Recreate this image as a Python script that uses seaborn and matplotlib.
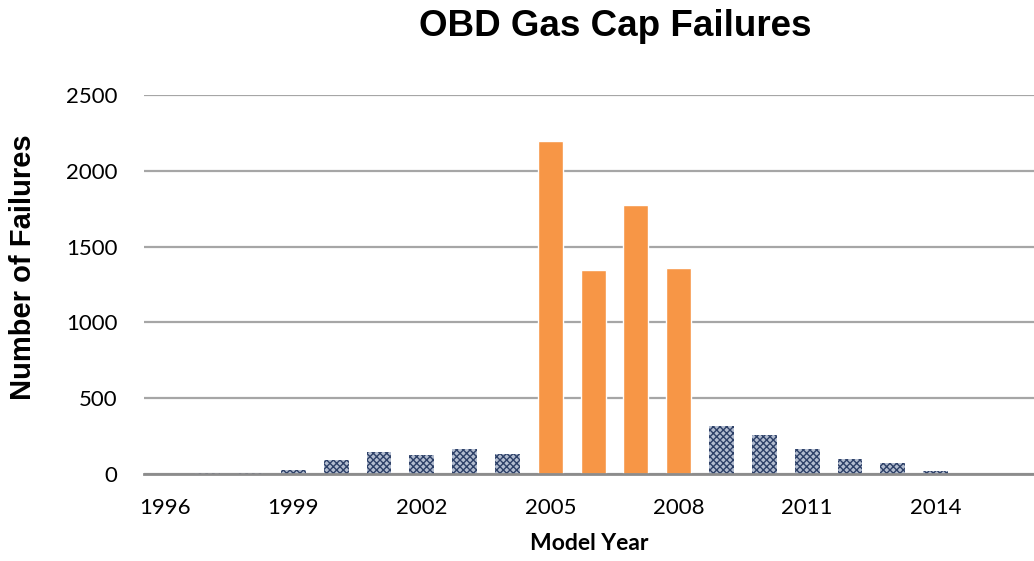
import pandas as pd
import matplotlib.pyplot as plt
import seaborn as sns

# ── DATA ──────────────────────────────────────────
years = [str(y) for y in range(1996, 2016)]
failures = [0, 8, 5, 26, 90, 147, 125, 162, 134,
            2195, 1345, 1773, 1357,
            318, 257, 167, 97, 70, 20, 0]
recall_years = ["2005", "2006", "2007", "2008"]
tick_years = years[::3]

df = pd.DataFrame({"year": years, "failures": failures})
df["group"] = ["recall" if y in recall_years else "other" for y in df["year"]]

# ── PLOT ──────────────────────────────────────────
sns.set_style("white")

fig = plt.figure(figsize=(10.34, 5.61), dpi=100)
ax = fig.add_axes([0.1389, 0.155, 0.8611, 0.6757])

sns.barplot(data=df, x="year", y="failures", hue="group",
            palette={"recall": "#f79646", "other": "#b3bdd0"},
            hue_order=["other", "recall"], saturation=1,
            dodge=False, width=0.58, legend=False, ax=ax)

# dotted navy pattern for the non-recall years
for bar in ax.containers[0]:
    bar.set_hatch("xxxxx")
    bar.set_edgecolor("#2e4168")
    bar.set_linewidth(0)

ax.set_ylim(0, 2500)
ax.set_xlim(-0.5, 20.3)
ax.set_yticks(range(0, 2501, 500))
ax.set_xticks(range(0, len(years), 3))
ax.set_xticklabels(tick_years)

ax.yaxis.grid(True, color="#a6a6a6", linewidth=1.6)
ax.set_axisbelow(True)
for s in ["top", "right", "left"]:
    ax.spines[s].set_visible(False)
ax.spines["bottom"].set_color("#8c8c8c")
ax.spines["bottom"].set_linewidth(2)
ax.spines["bottom"].set_zorder(5)

ax.tick_params(axis="both", length=0, labelsize=16, labelcolor="black")
ax.tick_params(axis="y", pad=19)
ax.tick_params(axis="x", pad=17)
for lab in ax.get_xticklabels() + ax.get_yticklabels():
    lab.set_family("Lato")

ax.set_xlabel("Model Year", family="Lato", fontweight="bold", fontsize=16.5,
              labelpad=11, color="black")
ax.set_ylabel("")
fig.text(0.0225, 0.524, "Number of Failures", family="Liberation Sans",
         fontweight="bold", fontsize=21, rotation=90, ha="center", va="center",
         color="black")
fig.text(0.595, 0.952, "OBD Gas Cap Failures", family="Liberation Sans",
         fontweight="bold", fontsize=26.5, ha="center", va="center", color="black")

plt.savefig("out.png", dpi=100)
